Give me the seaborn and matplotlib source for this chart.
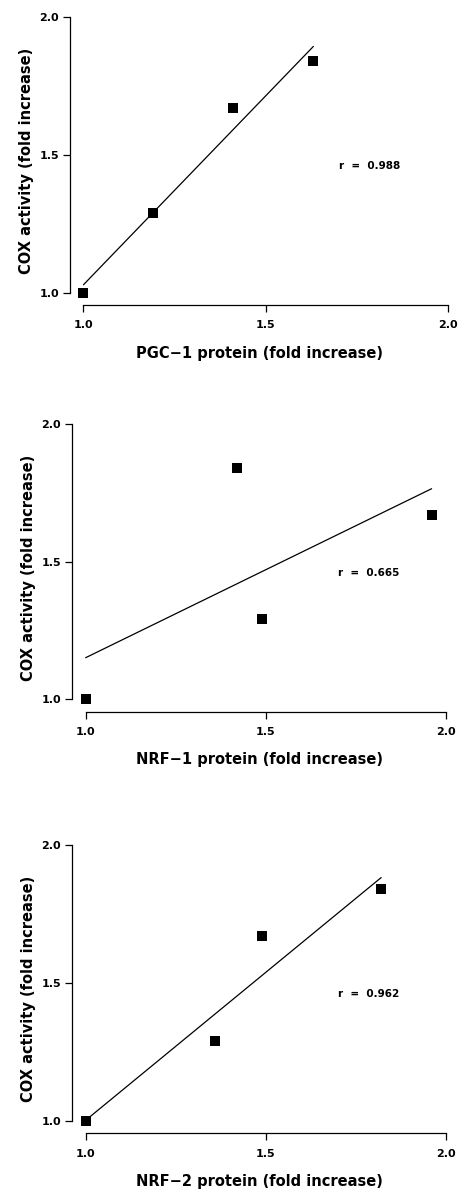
import seaborn as sns
import numpy as np
import pandas as pd
import matplotlib
matplotlib.use("Agg")
import matplotlib.pyplot as plt

# fold increase values
cox = [1.0, 1.29, 1.67, 1.84]
pgc1 = [1.0, 1.19, 1.41, 1.63]
nrf1 = [1.0, 1.49, 1.96, 1.42]
nrf2 = [1.0, 1.36, 1.49, 1.82]
r_labels = ["r  =  0.988", "r  =  0.665", "r  =  0.962"]
xlabels = ["PGC\u22121 protein (fold increase)",
           "NRF\u22121 protein (fold increase)",
           "NRF\u22122 protein (fold increase)"]
ticks = [1.0, 1.5, 2.0]

sns.set_style("ticks")
plt.rcParams['font.family'] = ['DejaVu Sans']
plt.rcParams['text.color'] = 'black'
plt.rcParams['axes.labelcolor'] = 'black'
plt.rcParams['xtick.color'] = 'black'
plt.rcParams['ytick.color'] = 'black'

fig = plt.figure(figsize=(4.6, 11.99), dpi=100)
W, H = 460.0, 1199.0
# axes boxes in pixels: left, right, top, bottom
boxes = [(70, 448.3, 16.7, 305), (72.3, 446, 424, 711.7), (72.3, 446, 845, 1133.3)]

for (l, r, t, b), xs, lab, rl in zip(boxes, [pgc1, nrf1, nrf2], xlabels, r_labels):
    ax = fig.add_axes([l / W, 1 - b / H, (r - l) / W, (b - t) / H])
    df = pd.DataFrame({"x": xs, "y": cox})
    sns.regplot(data=df, x="x", y="y", ci=None, marker="s", ax=ax,
                scatter_kws=dict(s=50, color="black", alpha=1, linewidths=0,
                                 clip_on=False, zorder=3),
                line_kws=dict(color="black", lw=0.9))
    ax.set_xlim(0.963, 2.0)
    ax.set_ylim(0.955, 2.0)
    ax.set_xticks(ticks)
    ax.set_yticks(ticks)
    ax.set_xticklabels([f"{v:.1f}" for v in ticks], fontweight="bold")
    ax.set_yticklabels([f"{v:.1f}" for v in ticks], fontweight="bold")
    ax.tick_params(direction="out", length=5, width=0.9, labelsize=8, pad=6)
    ax.tick_params(axis="y", pad=3)
    for s in ["left", "bottom"]:
        ax.spines[s].set_linewidth(0.9)
        ax.spines[s].set_color("black")
    sns.despine(ax=ax, trim=True)
    ax.set_xlabel(lab, fontsize=10.5, fontweight="bold", labelpad=11)
    ax.set_ylabel("COX activity (fold increase)", fontsize=10.5,
                  fontweight="bold", labelpad=4)
    ax.text(1.70, 1.46, rl, fontsize=7.5, fontweight="bold", va="center", ha="left")

fig.savefig("out.png", dpi=100)
